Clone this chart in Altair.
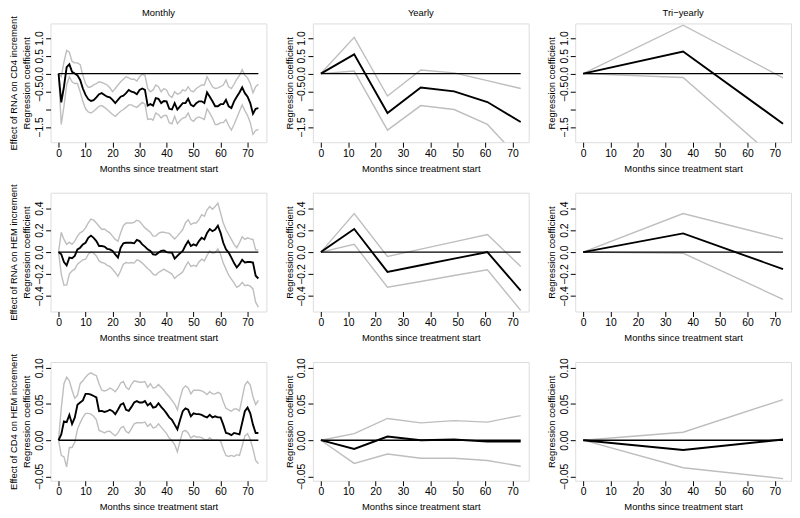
import altair as alt
import pandas as pd

FONT = "Liberation Sans"
GREY = "#bebebe"

# x positions
months = list(range(75))
yearly_x = [0, 12.17, 24.33, 36.5, 48.67, 60.83, 73]
tri_x = [0, 36.5, 73]

# ---- Row 1: Effect of RNA on CD4 increment ----
rna_cd4_m_est = [0, -0.81, -0.37, 0.18, 0.26, 0.05, 0.0, -0.05, -0.18, -0.42,
                 -0.6, -0.72, -0.77, -0.75, -0.67, -0.58, -0.55, -0.6, -0.65, -0.67,
                 -0.74, -0.83, -0.74, -0.65, -0.62, -0.55, -0.46, -0.51, -0.53, -0.58,
                 -0.46, -0.42, -0.46, -0.9, -0.86, -0.9, -0.69, -0.71, -0.83, -0.77,
                 -0.78, -0.99, -1.01, -0.83, -1.01, -0.92, -0.83, -0.83, -0.71, -0.88,
                 -0.92, -0.83, -0.78, -0.78, -0.83, -0.53, -0.65, -0.78, -0.92, -0.92,
                 -0.86, -0.86, -0.74, -0.92, -0.97, -0.78, -0.65, -0.53, -0.39, -0.55,
                 -0.65, -0.83, -1.13, -0.99, -0.97]
rna_cd4_m_hi = [0, -0.09, 0.32, 0.65, 0.6, 0.34, 0.30, 0.30, 0.25, -0.05,
                -0.28, -0.39, -0.37, -0.32, -0.28, -0.23, -0.25, -0.28, -0.32, -0.40,
                -0.51, -0.42, -0.32, -0.23, -0.16, -0.09, -0.12, -0.16, -0.16, -0.21,
                -0.09, -0.02, -0.05, -0.42, -0.51, -0.46, -0.32, -0.37, -0.51, -0.42,
                -0.46, -0.62, -0.67, -0.51, -0.58, -0.55, -0.46, -0.49, -0.37, -0.49,
                -0.51, -0.42, -0.37, -0.32, -0.32, -0.09, -0.23, -0.37, -0.42, -0.40,
                -0.37, -0.32, -0.18, -0.37, -0.42, -0.30, -0.16, -0.05, 0.11, -0.05,
                -0.12, -0.28, -0.54, -0.37, -0.30]
rna_cd4_m_lo = [0, -1.43, -0.92, -0.32, -0.09, -0.23, -0.28, -0.28, -0.51, -0.78,
                -0.99, -1.08, -1.11, -1.06, -0.99, -0.92, -0.90, -0.95, -1.01, -1.08,
                -1.15, -1.20, -1.13, -1.06, -1.01, -0.95, -0.88, -0.88, -0.92, -0.95,
                -0.88, -0.81, -0.86, -1.29, -1.27, -1.31, -1.11, -1.15, -1.25, -1.18,
                -1.18, -1.38, -1.41, -1.20, -1.41, -1.32, -1.25, -1.23, -1.11, -1.29,
                -1.34, -1.25, -1.22, -1.25, -1.29, -0.99, -1.11, -1.25, -1.43, -1.43,
                -1.38, -1.38, -1.29, -1.46, -1.59, -1.43, -1.25, -1.06, -0.88, -1.04,
                -1.18, -1.38, -1.71, -1.60, -1.57]
rna_cd4_y_est = [0, 0.54, -1.11, -0.39, -0.50, -0.80, -1.36]
rna_cd4_y_hi = [0, 1.02, -0.63, 0.10, 0.02, -0.20, -0.42]
rna_cd4_y_lo = [0, 0.07, -1.59, -0.90, -1.01, -1.43, -2.43]
rna_cd4_t_est = [0, 0.62, -1.41]
rna_cd4_t_hi = [0, 1.36, -0.12]
rna_cd4_t_lo = [0, -0.11, -2.58]

# ---- Row 2: Effect of RNA on HEM increment ----
rna_hem_m_est = [0, -0.02, -0.09, -0.12, -0.05, -0.055, -0.035, 0.025, 0.04, 0.07,
                 0.085, 0.13, 0.15, 0.13, 0.10, 0.055, 0.055, 0.05, 0.03, 0.025,
                 0.01, -0.02, -0.05, 0.04, 0.08, 0.085, 0.085, 0.085, 0.08, 0.11,
                 0.10, 0.07, 0.05, 0.025, 0.01, -0.02, -0.025, -0.005, 0.01, 0.015,
                 0.0, -0.005, -0.005, -0.06, -0.035, -0.01, 0.01, 0.06, 0.10, 0.055,
                 0.07, 0.06, 0.10, 0.13, 0.115, 0.175, 0.21, 0.19, 0.205, 0.24,
                 0.175, 0.085, 0.025, -0.005, -0.05, -0.10, -0.14, -0.11, -0.07, -0.095,
                 -0.09, -0.09, -0.095, -0.215, -0.24]
rna_hem_m_hi = [0, 0.18, 0.115, 0.07, 0.09, 0.07, 0.10, 0.145, 0.175, 0.19,
                0.22, 0.265, 0.30, 0.29, 0.265, 0.235, 0.205, 0.21, 0.19, 0.175,
                0.145, 0.115, 0.10, 0.175, 0.24, 0.265, 0.265, 0.265, 0.27, 0.29,
                0.28, 0.25, 0.22, 0.20, 0.18, 0.145, 0.145, 0.17, 0.18, 0.18,
                0.175, 0.17, 0.145, 0.12, 0.145, 0.175, 0.205, 0.265, 0.295, 0.25,
                0.265, 0.265, 0.295, 0.34, 0.325, 0.385, 0.415, 0.39, 0.415, 0.445,
                0.355, 0.265, 0.205, 0.16, 0.115, 0.07, 0.04, 0.085, 0.14, 0.115,
                0.13, 0.12, 0.115, 0.02, 0.02]
rna_hem_m_lo = [0, -0.2, -0.30, -0.30, -0.2, -0.17, -0.155, -0.11, -0.09, -0.07,
                -0.065, -0.02, 0.0, -0.01, -0.035, -0.08, -0.095, -0.10, -0.12, -0.13,
                -0.155, -0.185, -0.22, -0.17, -0.11, -0.095, -0.10, -0.095, -0.10, -0.07,
                -0.08, -0.10, -0.125, -0.15, -0.17, -0.20, -0.21, -0.185, -0.17, -0.155,
                -0.17, -0.185, -0.20, -0.24, -0.215, -0.20, -0.18, -0.13, -0.09, -0.13,
                -0.12, -0.13, -0.09, -0.065, -0.08, -0.03, 0.01, -0.01, -0.005, 0.03,
                -0.02, -0.10, -0.155, -0.21, -0.245, -0.28, -0.32, -0.305, -0.275, -0.305,
                -0.30, -0.31, -0.335, -0.455, -0.50]
rna_hem_y_est = [0, 0.21, -0.18, -0.12, -0.06, 0.0, -0.35]
rna_hem_y_hi = [0, 0.35, -0.04, 0.027, 0.093, 0.16, -0.13]
rna_hem_y_lo = [0, 0.07, -0.32, -0.267, -0.213, -0.16, -0.53]
rna_hem_t_est = [0, 0.17, -0.155]
rna_hem_t_hi = [0, 0.35, 0.12]
rna_hem_t_lo = [0, -0.01, -0.43]

# ---- Row 3: Effect of CD4 on HEM increment ----
cd4_hem_m_est = [0, 0.008, 0.026, 0.025, 0.035, 0.0225, 0.031, 0.049, 0.052, 0.055,
                 0.064, 0.064, 0.063, 0.061, 0.059, 0.040, 0.0405, 0.039, 0.040, 0.042,
                 0.040, 0.036, 0.042, 0.049, 0.051, 0.042, 0.0405, 0.046, 0.052, 0.054,
                 0.052, 0.052, 0.054, 0.048, 0.051, 0.045, 0.046, 0.051, 0.046, 0.042,
                 0.037, 0.0315, 0.028, 0.0215, 0.015, 0.028, 0.040, 0.044, 0.042, 0.033,
                 0.037, 0.036, 0.036, 0.035, 0.033, 0.0315, 0.035, 0.0315, 0.033, 0.0315,
                 0.0315, 0.0215, 0.010, 0.009, 0.007, 0.010, 0.009, 0.008, 0.024, 0.040,
                 0.045, 0.037, 0.0215, 0.010, 0.010]
cd4_hem_m_hi = [0, 0.044, 0.078, 0.087, 0.082, 0.069, 0.058, 0.062, 0.078, 0.082,
                0.087, 0.091, 0.093, 0.091, 0.089, 0.078, 0.069, 0.068, 0.069, 0.072,
                0.070, 0.067, 0.072, 0.079, 0.081, 0.073, 0.070, 0.077, 0.082, 0.081,
                0.080, 0.080, 0.081, 0.073, 0.078, 0.072, 0.073, 0.077, 0.073, 0.069,
                0.064, 0.060, 0.055, 0.050, 0.042, 0.058, 0.071, 0.075, 0.072, 0.064,
                0.069, 0.069, 0.069, 0.068, 0.066, 0.063, 0.067, 0.064, 0.064, 0.066,
                0.064, 0.053, 0.044, 0.042, 0.040, 0.043, 0.043, 0.0405, 0.058, 0.076,
                0.081, 0.076, 0.060, 0.049, 0.055]
cd4_hem_m_lo = [0, -0.021, -0.023, -0.037, -0.010, -0.010, -0.003, 0.015, 0.024, 0.0315,
                0.037, 0.037, 0.036, 0.033, 0.028, 0.0135, 0.012, 0.010, 0.012, 0.0125,
                0.009, 0.006, 0.010, 0.017, 0.019, 0.012, 0.010, 0.016, 0.0225, 0.024,
                0.024, 0.024, 0.025, 0.019, 0.0225, 0.017, 0.018, 0.0225, 0.018, 0.0135,
                0.009, 0.003, -0.001, -0.006, -0.016, -0.001, 0.012, 0.0135, 0.010, 0.003,
                0.006, 0.0045, 0.0045, 0.0035, 0.001, 0.0, 0.0035, 0.0, 0.0, 0.0,
                -0.001, -0.012, -0.021, -0.0225, -0.021, -0.0225, -0.020, -0.021, -0.008, 0.006,
                0.009, 0.001, -0.012, -0.028, -0.0325]
cd4_hem_y_est = [0, -0.012, 0.005, 0.0, 0.001, -0.002, -0.002]
cd4_hem_y_hi = [0, 0.009, 0.030, 0.024, 0.027, 0.025, 0.034]
cd4_hem_y_lo = [0, -0.032, -0.019, -0.025, -0.025, -0.028, -0.036]
cd4_hem_t_est = [0, -0.0135, 0.001]
cd4_hem_t_hi = [0, 0.011, 0.056]
cd4_hem_t_lo = [0, -0.038, -0.053]

column_titles = ["Monthly", "Yearly", "Tri\u2212yearly"]
row_titles = ["Effect of RNA on CD4 increment",
              "Effect of RNA on HEM increment",
              "Effect of CD4 on HEM increment"]
x_ticks = [0, 10, 20, 30, 40, 50, 60, 70]
y_ticks = [[-1.5, -1.0, -0.5, 0.0, 0.5, 1.0],
           [-0.4, -0.2, 0.0, 0.2, 0.4],
           [-0.05, 0.0, 0.05, 0.10]]
y_formats = [".1f", ".1f", ".2f"]
y_domains = [[-1.93, 1.41], [-0.54, 0.54], [-0.056, 0.108]]

W, H = 218, 120
NUM = 10.5
TXT = 9.5


def panel(x, est, lo, hi, row, col):
    n = len(x)
    xmax = x[-1]
    df = pd.DataFrame({
        "month": list(x) * 3 + [0, xmax],
        "value": list(est) + list(lo) + list(hi) + [0, 0],
        "series": ["est"] * n + ["lower"] * n + ["upper"] * n + ["zero", "zero"],
    })
    xdom = [-0.04 * xmax, 1.04 * xmax]
    xs = alt.Scale(domain=xdom, nice=False, zero=False)
    ys = alt.Scale(domain=y_domains[row], nice=False, zero=False)
    label_expr = "datum.value == -1 ? '' : datum.label" if row == 0 else "datum.label"
    ytitle = [row_titles[row], "Regression coefficient"] if col == 0 else "Regression coefficient"
    xax = alt.Axis(values=x_ticks, format="d", title="Months since treatment start",
                   grid=False, domain=False, tickSize=5, tickColor="black", tickWidth=1,
                   labelFont=FONT, labelFontSize=NUM, labelColor="black", labelPadding=1,
                   labelFlush=False, labelOverlap=False,
                   titleFont=FONT, titleFontSize=TXT, titleFontWeight="normal",
                   titleColor="black", titlePadding=5)
    yax = alt.Axis(values=y_ticks[row], format=y_formats[row], labelExpr=label_expr,
                   title=ytitle, grid=False, domain=False, tickSize=5, tickColor="black",
                   tickWidth=1, labelAngle=270, labelAlign="center", labelBaseline="bottom",
                   labelFont=FONT, labelFontSize=NUM, labelColor="black", labelPadding=1,
                   labelFlush=False, labelOverlap=False,
                   titleFont=FONT, titleFontSize=TXT, titleFontWeight="normal",
                   titleColor="black", titlePadding=3, titleLineHeight=13)
    X = alt.X("month:Q", scale=xs, axis=xax)
    Y = alt.Y("value:Q", scale=ys, axis=yax)
    base = alt.Chart(df)
    grey = base.transform_filter(
        (alt.datum.series == "lower") | (alt.datum.series == "upper")
    ).mark_line(color=GREY, strokeWidth=1.4, clip=True).encode(x=X, y=Y, detail="series:N")
    zero = base.transform_filter(alt.datum.series == "zero").mark_line(
        color="black", strokeWidth=1.4, clip=True).encode(x=X, y=Y)
    black = base.transform_filter(alt.datum.series == "est").mark_line(
        color="black", strokeWidth=1.9, clip=True).encode(x=X, y=Y)
    ch = alt.layer(grey, zero, black).properties(width=W, height=H)
    if row == 0:
        # the long two-line y title of the first column pushes its group bounds up;
        # shift that title back down so all three column titles line up
        ch = ch.properties(title=alt.TitleParams(column_titles[col], font=FONT, fontSize=TXT,
                                                 fontWeight="normal", color="black",
                                                 anchor="middle", frame="group", offset=6,
                                                 dy=8 if col == 0 else 0))
    return ch


data = [
    [(months, rna_cd4_m_est, rna_cd4_m_lo, rna_cd4_m_hi),
     (yearly_x, rna_cd4_y_est, rna_cd4_y_lo, rna_cd4_y_hi),
     (tri_x, rna_cd4_t_est, rna_cd4_t_lo, rna_cd4_t_hi)],
    [(months, rna_hem_m_est, rna_hem_m_lo, rna_hem_m_hi),
     (yearly_x, rna_hem_y_est, rna_hem_y_lo, rna_hem_y_hi),
     (tri_x, rna_hem_t_est, rna_hem_t_lo, rna_hem_t_hi)],
    [(months, cd4_hem_m_est, cd4_hem_m_lo, cd4_hem_m_hi),
     (yearly_x, cd4_hem_y_est, cd4_hem_y_lo, cd4_hem_y_hi),
     (tri_x, cd4_hem_t_est, cd4_hem_t_lo, cd4_hem_t_hi)],
]

panels = [panel(*data[r][c], r, c) for r in range(3) for c in range(3)]

chart = alt.concat(*panels, columns=3, spacing={"row": 51, "column": 47},
                   bounds="flush").properties(
    padding={"left": 0, "top": -4, "right": 0, "bottom": 0}
).configure_view(stroke="black", strokeWidth=1.2).configure_axis(
    labelOverlap=False
).configure(font=FONT)

chart.save("out.html", embed_options={"renderer": "svg", "actions": False})
